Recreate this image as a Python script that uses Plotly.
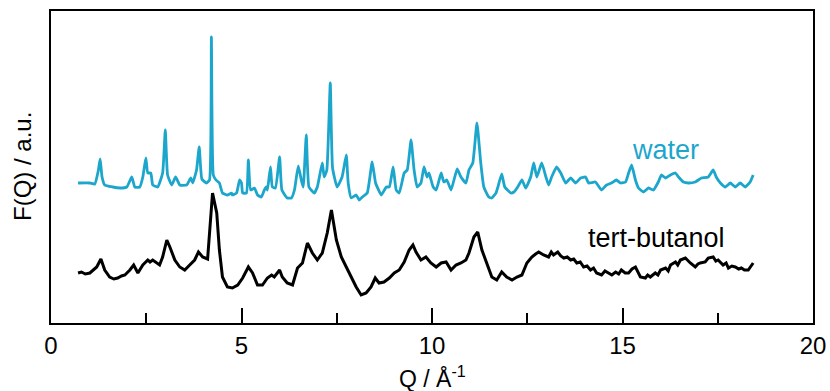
import plotly.graph_objects as go

# Water F(Q) (Q in 1/Å, arbitrary units)
water_q = [0.71, 1.02, 1.15, 1.24, 1.29, 1.34, 1.41, 1.62, 1.81, 1.99, 2.12, 2.20, 2.33, 2.41, 2.49, 2.54,
           2.62, 2.67, 2.80, 2.93, 3.00, 3.06, 3.17, 3.27, 3.38, 3.56, 3.67, 3.72, 3.82, 3.89, 3.96, 4.08,
           4.16, 4.21, 4.26, 4.33, 4.42, 4.50, 4.63, 4.74, 4.76, 4.87, 4.95, 5.00, 5.03, 5.13, 5.18, 5.24,
           5.34, 5.42, 5.52, 5.60, 5.65, 5.68, 5.76, 5.81, 5.89, 6.00, 6.06, 6.20, 6.31, 6.39, 6.49, 6.57,
           6.62, 6.70, 6.77, 6.91, 6.99, 7.12, 7.17, 7.24, 7.33, 7.39, 7.51, 7.64, 7.75, 7.80, 7.88, 8.01,
           8.09, 8.17, 8.30, 8.43, 8.52, 8.67, 8.80, 8.88, 8.98, 9.06, 9.14, 9.27, 9.35, 9.45, 9.53, 9.61,
           9.71, 9.79, 9.87, 9.92, 10.03, 10.11, 10.24, 10.31, 10.39, 10.50, 10.66, 10.76, 10.89, 10.97,
           11.07, 11.18, 11.28, 11.36, 11.49, 11.57, 11.68, 11.73, 11.83, 11.91, 12.07, 12.15, 12.25, 12.36,
           12.46, 12.59, 12.67, 12.75, 12.88, 12.99, 13.06, 13.14, 13.27, 13.38, 13.51, 13.64, 13.77, 13.90,
           14.03, 14.11, 14.29, 14.45, 14.58, 14.71, 14.84, 14.95, 15.08, 15.16, 15.24, 15.34, 15.42, 15.55,
           15.68, 15.81, 15.94, 16.02, 16.13, 16.26, 16.39, 16.47, 16.60, 16.73, 16.91, 17.07, 17.25, 17.38,
           17.46, 17.57, 17.70, 17.83, 17.96, 18.09, 18.22, 18.35, 18.43]
water_f = [140, 140, 139, 152, 164, 146, 138, 136, 135, 136, 146, 136, 136, 146, 165, 150,
           150, 138, 136, 150, 193, 148, 138, 146, 138, 138, 145, 140, 153, 176, 144, 140,
           143, 286, 148, 143, 140, 130, 128, 130, 128, 130, 143, 140, 130, 130, 163, 133,
           135, 128, 126, 133, 136, 133, 156, 136, 135, 166, 133, 125, 125, 133, 157, 143,
           136, 188, 136, 130, 136, 160, 146, 153, 240, 155, 136, 146, 168, 140, 125, 128,
           123, 126, 130, 161, 140, 128, 136, 136, 156, 133, 130, 150, 153, 183, 153, 136,
           140, 156, 146, 150, 136, 133, 150, 141, 143, 133, 154, 146, 140, 153,
           160, 200, 160, 136, 126, 125, 130, 136, 149, 136, 130, 131, 136, 143,
           135, 146, 160, 146, 160, 146, 138, 146, 156, 150, 140, 145, 140, 145,
           146, 140, 141, 133, 138, 140, 143, 140, 141, 150, 158, 143, 135, 131,
           135, 133, 141, 148, 145, 148, 150, 146, 141, 140, 141, 145, 146, 153,
           146, 140, 136, 140, 136, 140, 136, 141, 148]

# tert-butanol F(Q)
tba_q = [0.71, 0.80, 0.90, 1.02, 1.20, 1.31, 1.41, 1.54, 1.65, 1.75, 1.85, 1.94, 2.07, 2.17, 2.28, 2.41,
         2.54, 2.60, 2.67, 2.78, 2.85, 2.93, 3.04, 3.12, 3.25, 3.38, 3.51, 3.64, 3.77, 3.87, 3.98, 4.11,
         4.24, 4.35, 4.42, 4.50, 4.63, 4.76, 4.90, 5.03, 5.18, 5.29, 5.42, 5.55, 5.68, 5.79, 5.86, 6.00,
         6.07, 6.20, 6.34, 6.47, 6.60, 6.73, 6.86, 6.99, 7.12, 7.25, 7.36, 7.49, 7.62, 7.75, 7.88, 8.01,
         8.14, 8.27, 8.40, 8.51, 8.61, 8.74, 8.88, 9.01, 9.14, 9.27, 9.40, 9.50, 9.58, 9.71, 9.84, 9.97,
         10.11, 10.24, 10.37, 10.50, 10.63, 10.76, 10.89, 10.97, 11.10, 11.20, 11.31, 11.44, 11.57, 11.70,
         11.83, 11.96, 12.10, 12.23, 12.36, 12.49, 12.62, 12.72, 12.80, 12.93, 13.06, 13.13, 13.19, 13.30,
         13.38, 13.46, 13.55, 13.64, 13.72, 13.80, 13.89, 13.98, 14.07, 14.16, 14.24, 14.32, 14.45, 14.54,
         14.63, 14.72, 14.82, 14.90, 14.97, 15.07, 15.16, 15.25, 15.34, 15.47, 15.60, 15.66, 15.73, 15.86,
         15.93, 16.00, 16.13, 16.20, 16.26, 16.39, 16.45, 16.52, 16.65, 16.72, 16.78, 16.91, 16.98, 17.04,
         17.17, 17.25, 17.38, 17.45, 17.51, 17.64, 17.72, 17.78, 17.87, 17.96, 18.05, 18.12, 18.20, 18.30,
         18.38, 18.43]
tba_f = [50, 51, 49, 50, 56, 64, 53, 46, 44, 45, 47, 48, 53, 58, 50, 58,
         63, 61, 63, 60, 58, 66, 83, 76, 63, 56, 53, 58, 63, 71, 66, 64,
         130, 110, 73, 46, 36, 35, 38, 45, 56, 50, 38, 38, 45, 48, 46, 53,
         46, 40, 38, 55, 60, 80, 70, 63, 70, 90, 113, 83, 66, 56, 46, 36,
         28, 30, 36, 45, 40, 41, 45, 50, 53, 61, 73, 78, 71, 63, 66, 60,
         56, 60, 61, 53, 58, 60, 63, 70, 86, 91, 73, 60, 46, 43,
         51, 46, 43, 46, 48, 60, 66, 69, 71, 68, 66, 71, 68, 71,
         67, 65, 66, 63, 64, 60, 61, 56, 57, 53, 55, 50, 48, 52,
         50, 48, 51, 49, 53, 50, 50, 54, 56, 46, 45, 48, 46, 50,
         48, 53, 55, 52, 58, 61, 58, 63, 65, 62, 60, 56, 59, 60,
         61, 65, 66, 62, 63, 58, 60, 55, 57, 56, 54, 55, 53, 53,
         58, 60]

x_ticks = [0, 5, 10, 15, 20]
WATER_COLOR = "#1ca6cc"
FONT = "Liberation Sans, Arial, sans-serif"

fig = go.Figure()
fig.add_trace(go.Scatter(x=water_q, y=water_f, mode="lines", name="water",
                         line=dict(color=WATER_COLOR, width=2.8, shape="spline", smoothing=0.4),
                         showlegend=False))
fig.add_trace(go.Scatter(x=tba_q, y=tba_f, mode="lines", name="tert-butanol",
                         line=dict(color="black", width=3), showlegend=False))

fig.add_annotation(x=16.13, y=173, text="water", showarrow=False,
                   font=dict(size=27, color=WATER_COLOR, family=FONT), yanchor="middle")
fig.add_annotation(x=15.89, y=85, text="tert-butanol", showarrow=False,
                   font=dict(size=27, color="black", family=FONT), yanchor="middle")

# axis titles
fig.add_annotation(xref="paper", yref="paper", x=0.5, y=0, yshift=-54, yanchor="middle",
                   text="Q / Å<sup>-1</sup>", showarrow=False, font=dict(size=23, family=FONT))
fig.add_annotation(xref="paper", yref="paper", x=0, y=0.5, xshift=-29, xanchor="center",
                   textangle=-90, text="F(Q) / a.u.", showarrow=False, font=dict(size=24, family=FONT))

fig.update_layout(
    width=830, height=391,
    margin=dict(l=51, r=17, t=11, b=68, autoexpand=False),
    plot_bgcolor="white", paper_bgcolor="white",
    font=dict(family=FONT, size=24, color="black"),
)
fig.update_xaxes(
    range=[0, 20], tickvals=x_ticks, ticktext=[str(v) for v in x_ticks],
    ticks="inside", ticklen=15, tickwidth=2, tickcolor="black",
    minor=dict(dtick=2.5, tick0=0, ticks="inside", ticklen=10, tickwidth=2, tickcolor="black"),
    showline=True, linecolor="black", linewidth=2, mirror=True,
    showgrid=False, zeroline=False, automargin=False,
    tickfont=dict(size=24), ticklabelstandoff=0,
)
fig.update_yaxes(
    range=[0, 312], showticklabels=False, ticks="",
    showline=True, linecolor="black", linewidth=2, mirror=True,
    showgrid=False, zeroline=False, automargin=False,
)

fig.write_html("out.html", config={"displayModeBar": False},
               post_script="document.body.style.margin='0';document.body.style.overflow='hidden';")
